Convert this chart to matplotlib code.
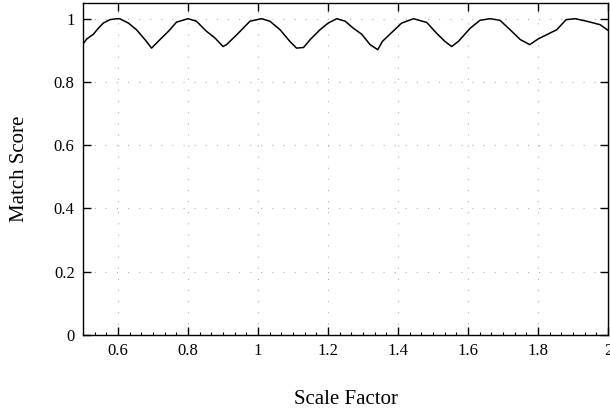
import matplotlib
matplotlib.use("Agg")
import matplotlib.pyplot as plt
from matplotlib.ticker import MultipleLocator, FuncFormatter

scale = [0.5, 0.511, 0.53, 0.544, 0.558, 0.577, 0.596, 0.605, 0.63, 0.653, 0.677, 0.696,
         0.72, 0.744, 0.767, 0.80, 0.824, 0.853, 0.877, 0.90, 0.91, 0.939, 0.977, 1.01,
         1.034, 1.063, 1.091, 1.11, 1.13, 1.149, 1.177, 1.20, 1.225, 1.249, 1.272, 1.296,
         1.32, 1.342, 1.355, 1.372, 1.41, 1.444, 1.482, 1.51, 1.534, 1.553, 1.572, 1.606,
         1.634, 1.663, 1.691, 1.72, 1.749, 1.776, 1.80, 1.853, 1.88, 1.906, 1.939, 1.977, 2.0]
score = [0.920, 0.936, 0.951, 0.970, 0.986, 0.997, 1.0, 1.0, 0.986, 0.965, 0.934, 0.907,
         0.934, 0.960, 0.989, 1.0, 0.992, 0.960, 0.939, 0.912, 0.918, 0.949, 0.992, 1.0,
         0.992, 0.965, 0.928, 0.907, 0.909, 0.934, 0.965, 0.986, 1.0, 0.992, 0.970, 0.951,
         0.918, 0.902, 0.928, 0.946, 0.986, 1.0, 0.988, 0.954, 0.928, 0.912, 0.928, 0.970,
         0.995, 1.0, 0.995, 0.965, 0.934, 0.918, 0.936, 0.965, 0.997, 1.0, 0.992, 0.981, 0.963]

x_ticks = [0.6, 0.8, 1.0, 1.2, 1.4, 1.6, 1.8, 2.0]
y_ticks = [0, 0.2, 0.4, 0.6, 0.8, 1.0]

plt.rcParams['font.family'] = ['Liberation Serif', 'DejaVu Serif']

fig = plt.figure(figsize=(6.10, 4.12), dpi=100)
ax = fig.add_axes([0.136, 0.187, 0.861, 0.806])
ax.plot(scale, score, color='black', lw=1.1)

ax.set_xlim(0.5, 2.0)
ax.set_ylim(0, 1.05)
ax.set_xticks(x_ticks)
ax.set_yticks(y_ticks)
fmt = FuncFormatter(lambda v, p: '%g' % round(v, 3))
ax.xaxis.set_major_formatter(fmt)
ax.yaxis.set_major_formatter(fmt)
ax.xaxis.set_minor_locator(MultipleLocator(0.2 / 6))

ax.tick_params(which='major', direction='in', length=6, width=1, top=True, right=True,
               labelsize=12, pad=6)
ax.tick_params(axis='x', which='minor', direction='in', length=2, width=0.8, top=False, bottom=True)
ax.tick_params(axis='y', which='minor', left=False, right=False)

ax.grid(True, which='major', color='#b0b0b0', linestyle=(0, (1, 9)), linewidth=0.8)
for s in ax.spines.values():
    s.set_linewidth(1.0)

ax.set_xlabel('Scale Factor', fontsize=15, labelpad=22)
ax.set_ylabel('Match Score', fontsize=15, labelpad=18)

fig.savefig('out.png', dpi=100)
